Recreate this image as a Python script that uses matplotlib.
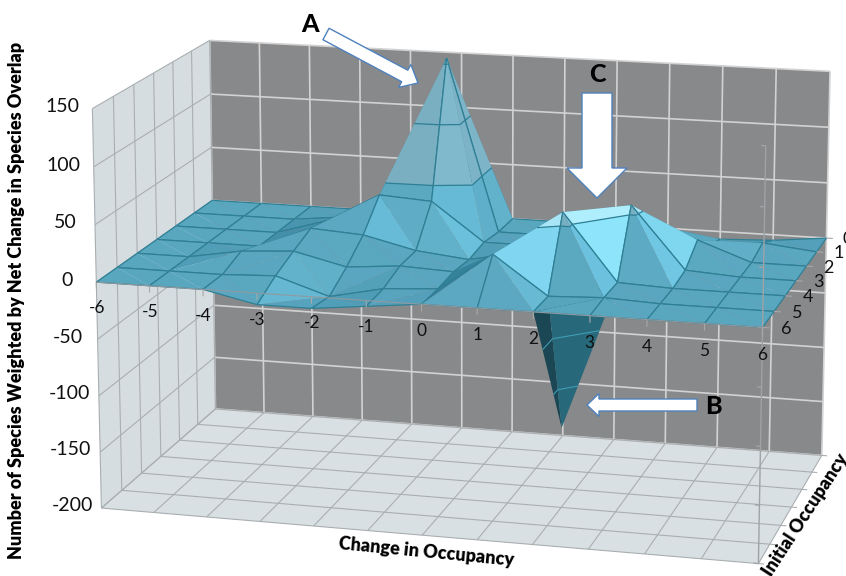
import numpy as np
import matplotlib
matplotlib.use("Agg")
import matplotlib.pyplot as plt
from matplotlib.patches import FancyArrow
from mpl_toolkits.mplot3d import proj3d
from mpl_toolkits.mplot3d.art3d import Poly3DCollection, Line3DCollection

plt.rcParams["font.family"] = ["Lato", "DejaVu Sans"]

x_values = [-6, -5, -4, -3, -2, -1, 0, 1, 2, 3, 4, 5, 6]
y_values = [0, 1, 2, 3, 4, 5, 6]
z_ticks = [150, 100, 50, 0, -50, -100, -150, -200]

# surface heights, one list per initial occupancy
occ_0 = [0, 0, 0, 0, 8, 30, 0, 0, 5, -10, -7, -5, 0]
occ_1 = [0, 0, 0, 5, 35, 155, 0, 0, 8, 15, 0, 5, 0]
occ_2 = [0, 0, 0, 14, 40, 37, 3, 3, 25, 30, 17, 0, 0]
occ_3 = [0, 0, 0, 19, 16, 5, 0, 10, 40, 57, 3, 0, 0]
occ_4 = [0, 0, 8, 11, 0, 4, 2, 15, 60, 2, 0, 0, 0]
occ_5 = [0, 0, 0, 2, -13, -3, 0, 33, 0, 2, 0, 0, 0]
occ_6 = [0, 0, 0, -10, -10, -5, 0, 0, 0, 0, 0, 0, 0]

# the downward spike under the plane (marked B)
spike_x = [2, 2, 3, 2]
spike_y = [6, 5, 4, 4]
spike_z = [0, 0, 0, -129]

X_LO, X_HI, Y_BACK, Y_FRONT, Z_LO, Z_HI = -6, 6, 0, 6, -200, 150


# ── Camera: fit the box corners to where they sit in the picture ─────────── #

def fit_camera():
    world = [(X_LO, Y_FRONT, Z_LO), (X_HI, Y_FRONT, Z_LO), (X_HI, Y_BACK, Z_LO), (X_LO, Y_BACK, Z_LO),
             (X_LO, Y_FRONT, Z_HI), (X_HI, Y_FRONT, Z_HI), (X_HI, Y_BACK, Z_HI), (X_LO, Y_BACK, Z_HI)]
    image = [(102, 509), (757, 563), (823, 456), (215, 408),
             (92, 108), (767, 146), (829, 71), (210, 41)]
    A, b = [], []
    for (x, y, z), (u, v) in zip(world, image):
        A.append([x, y, z, 1, 0, 0, 0, 0, -u*x, -u*y, -u*z])
        A.append([0, 0, 0, 0, x, y, z, 1, -v*x, -v*y, -v*z])
        b += [u, v]
    p = np.linalg.lstsq(np.array(A, float), np.array(b, float), rcond=None)[0]
    return np.array([[p[0], p[1], p[2], p[3]],
                     [p[4], p[5], p[6], p[7]],
                     [0, -1, 0, 0],
                     [p[8], p[9], p[10], 1]])


fig = plt.figure(figsize=(8.46, 5.76), dpi=100)
ax = fig.add_axes([0, 0, 1, 1], projection="3d", computed_zorder=False)
M = fit_camera()
ax.get_proj = lambda: M
ax.apply_aspect = lambda position=None: None
ax.viewLim.intervalx = (0, 846)
ax.viewLim.intervaly = (576, 0)
ax.set_xticks([])
ax.set_yticks([])
ax.set_zticks([])
ax.set_axis_off()
ax.patch.set_visible(False)

LEFT_WALL = "#d6dde1"
FLOOR = "#d9e0e4"
BACK_WALL = "#88898b"
GRID_LIGHT = "#a9aeb1"
GRID_BACK = "#d2d2d2"


def poly(verts, color, z):
    ax.add_collection3d(Poly3DCollection([verts], facecolors=color, edgecolors="none", zorder=z))


def lines(segs, color, lw, z):
    if segs:
        ax.add_collection3d(Line3DCollection(segs, colors=color, linewidths=lw, zorder=z))


# ── Walls and floor ──────────────────────────────────────────────────────── #

poly([(X_LO, Y_FRONT, Z_LO), (X_LO, Y_BACK, Z_LO), (X_LO, Y_BACK, Z_HI), (X_LO, Y_FRONT, Z_HI)], LEFT_WALL, 1)
poly([(X_LO, Y_BACK, Z_LO), (X_HI, Y_BACK, Z_LO), (X_HI, Y_BACK, Z_HI), (X_LO, Y_BACK, Z_HI)], BACK_WALL, 1)
poly([(X_LO, Y_FRONT, Z_LO), (X_HI, Y_FRONT, Z_LO), (X_HI, Y_BACK, Z_LO), (X_LO, Y_BACK, Z_LO)], FLOOR, 1)

lines([[(x, Y_BACK, Z_LO), (x, Y_BACK, Z_HI)] for x in x_values]
      + [[(X_LO, Y_BACK, z), (X_HI, Y_BACK, z)] for z in z_ticks], GRID_BACK, 1.2, 2)
lines([[(X_LO, y, Z_LO), (X_LO, y, Z_HI)] for y in y_values]
      + [[(X_LO, Y_FRONT, z), (X_LO, Y_BACK, z)] for z in z_ticks], GRID_LIGHT, 0.8, 2)
lines([[(x, Y_BACK, Z_LO), (x, Y_FRONT, Z_LO)] for x in x_values]
      + [[(X_LO, y, Z_LO), (X_HI + 0.1, y, Z_LO)] for y in y_values], GRID_LIGHT, 0.8, 2)


# ── Surface helpers ──────────────────────────────────────────────────────── #

L = np.array([0.65, 0.5, 0.55])
SHADE_AT = [0.0, 0.55, 0.75, 0.86, 1.0]
SHADE_RGB = np.array([[0.17, 0.47, 0.58], [0.35, 0.65, 0.75], [0.36, 0.66, 0.76],
                      [0.43, 0.77, 0.88], [0.57, 0.91, 1.0]])


def shade(tri, band):
    a, b, c = [np.array([p[0], p[1], p[2] / 50.0]) for p in tri]
    n = np.cross(b - a, c - a)
    if n[2] < 0:
        n = -n
    v = np.dot(n / np.linalg.norm(n), L)
    rgb = np.array([np.interp(v, SHADE_AT, SHADE_RGB[:, i]) for i in range(3)])
    if band >= 50:
        # the upper bands look paler against the wall
        mix = np.array([0.62, 0.72, 0.76]) if v < 0.9 else np.array([0.85, 0.98, 1.0])
        rgb = rgb * 0.55 + mix * 0.45
    return tuple(rgb)


def clip(pts, lev, sign):
    out = []
    for a, b in zip(pts, pts[1:] + pts[:1]):
        da, db = sign * (a[2] - lev), sign * (b[2] - lev)
        if da >= 0:
            out.append(a)
        if da * db < 0:
            t = da / (da - db)
            out.append(tuple(np.array(a) + t * (np.array(b) - np.array(a))))
    return out


def level_segment(tri, lev):
    pts = []
    for a, b in zip(tri, tri[1:] + tri[:1]):
        if (a[2] - lev) * (b[2] - lev) < 0:
            t = (lev - a[2]) / (b[2] - a[2])
            pts.append(tuple(np.array(a) + t * (np.array(b) - np.array(a))))
    return pts if len(pts) == 2 else None


# ── Surface: two triangles per cell, split through the tallest corner ────── #

Z = np.array([occ_0, occ_1, occ_2, occ_3, occ_4, occ_5, occ_6], float)
tris = []
for r in range(len(y_values) - 1):
    for c in range(len(x_values) - 1):
        p00 = (x_values[c], y_values[r], Z[r, c])
        p10 = (x_values[c + 1], y_values[r], Z[r, c + 1])
        p01 = (x_values[c], y_values[r + 1], Z[r + 1, c])
        p11 = (x_values[c + 1], y_values[r + 1], Z[r + 1, c + 1])
        corners = [p00, p10, p11, p01]
        top = int(np.argmax([abs(p[2]) for p in corners]))
        if top in (0, 2):
            tris += [[p00, p10, p11], [p00, p11, p01]]
        else:
            tris += [[p00, p10, p01], [p10, p11, p01]]

tris.sort(key=lambda t: (round(sum(p[1] for p in t) / 3, 3), sum(p[0] for p in t) / 3))

BANDS = [(-1e4, 50), (50, 100), (100, 150), (150, 1e4)]
EDGE = "#2f7f95"

# spike goes first so the plane covers its top
sx = list(zip(spike_x, spike_y, spike_z))
zo = 3
for tri, col in [([sx[0], sx[1], sx[3]], "#1b4653"), ([sx[1], sx[2], sx[3]], "#27687a")]:
    poly(tri, col, zo)
    segs = [s for s in (level_segment(tri, lev) for lev in (-41, -91)) if s]
    lines(segs, "#3f9db5", 0.8, zo + 1)
    zo += 2

for tri in tris:
    for lo, hi in BANDS:
        part = clip(clip(tri, lo, 1), hi, -1)
        if len(part) >= 3:
            poly(part, shade(tri, lo), zo)
    zo += 1
    segs = []
    for a, b in zip(tri, tri[1:] + tri[:1]):
        if a[0] == b[0] or a[1] == b[1]:
            segs.append([a, b])
    for lev in (50, 100, 150):
        s = level_segment(tri, lev)
        if s:
            segs.append(s)
    lines(segs, EDGE, 0.9, zo)
    zo += 1

# ── Front vertical and tick marks ────────────────────────────────────────── #

lines([[(X_HI, Y_FRONT, Z_LO), (X_HI, Y_FRONT, Z_HI)]]
      + [[(X_HI - 0.08, Y_FRONT, z), (X_HI, Y_FRONT, z)] for z in z_ticks], "#9fa3a6", 1.0, zo)
lines([[(x, Y_FRONT, 0), (x, Y_FRONT, -6)] for x in x_values]
      + [[(X_HI, y, 0), (X_HI + 0.12, y, 0)] for y in y_values], "#a8a8a8", 0.8, zo)
lines([[(X_LO, Y_FRONT, 0), (X_HI, Y_FRONT, 0)]], "#8f9a9f", 0.8, zo)

# ── Tick labels, arrows and titles, placed on the picture itself ─────────── #

over = fig.add_axes([0, 0, 1, 1])
over.set_xlim(0, 846)
over.set_ylim(576, 0)
over.set_xticks([])
over.set_yticks([])
over.set_axis_off()
over.patch.set_visible(False)


def tick_label(x, y, z, label, size):
    u, v, _ = proj3d.proj_transform(x, y, z, M)
    over.text(u, v, str(label), ha="center", va="center", fontsize=size, color="#111111")


for x in x_values:
    tick_label(x, Y_FRONT, -23, x, 12.5)
for y in y_values:
    tick_label(X_HI + 0.4, y, 0, y, 13)
for z in z_ticks:
    tick_label(X_LO - 0.56, Y_FRONT, z, z, 14)

for x0, y0, dx, dy, w, hw, hl in [(326, 34, 92, 49, 13, 26, 15),
                                  (597, 93, 0, 105, 30, 60, 30),
                                  (697, 405, -110, 0, 12, 23, 12)]:
    over.add_patch(FancyArrow(x0, y0, dx, dy, width=w, head_width=hw, head_length=hl,
                              length_includes_head=True, fc="white", ec="#4f81bd", lw=1.0))

over.text(310, 24, "A", fontsize=18, fontweight=900, ha="center", va="center", color="black")
over.text(597, 74, "C", fontsize=18, fontweight=900, ha="center", va="center", color="black")
over.text(713, 406, "B", fontsize=18, fontweight=900, ha="center", va="center", color="black")

over.text(17, 300, "Number of Species Weighted by Net Change in Species Overlap", rotation=90,
          fontsize=13, fontweight=800, ha="center", va="center", color="black")
over.text(426, 552, "Change in Occupancy", rotation=-5.5, fontsize=13, fontweight=800,
          ha="center", va="center", color="black")
over.text(806, 515, "Initial Occupancy", rotation=57, fontsize=13, fontweight=800,
          ha="center", va="center", color="black", rotation_mode="anchor")

fig.savefig("out.png", dpi=100)
